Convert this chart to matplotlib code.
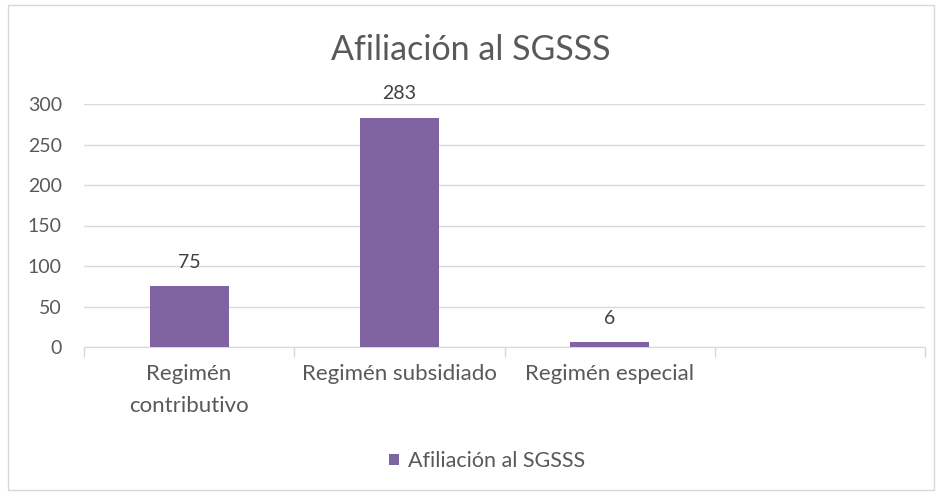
import matplotlib
matplotlib.use("Agg")
import matplotlib.pyplot as plt
from matplotlib.patches import Rectangle

categories = ["Regimén\ncontributivo", "Regimén subsidiado", "Regimén especial", ""]
values = [75, 283, 6, None]
series_name = "Afiliación al SGSSS"
title = "Afiliación al SGSSS"
yticks = [0, 50, 100, 150, 200, 250, 300]

plt.rcParams['font.family'] = ['Lato', 'DejaVu Sans']
text_color = "#595959"
bar_color = "#8064A2"
grid_color = "#D9D9D9"

fig = plt.figure(figsize=(9.42, 4.95), dpi=100)
ax = fig.add_axes([84/942, 148/495, (925-84)/942, (391-148)/495])

xs = [i for i, v in enumerate(values) if v is not None]
vs = [v for v in values if v is not None]
bars = ax.bar(xs, vs, width=0.376, color=bar_color, label=series_name, zorder=3)
for x, v in zip(xs, vs):
    ax.annotate(str(v), (x, v), xytext=(0, 11), textcoords="offset points",
                ha="center", va="bottom", fontsize=14, color="#404040")

ax.set_xlim(-0.5, len(categories) - 0.5)
ax.set_ylim(0, 300)
ax.set_yticks(yticks)
ax.set_yticklabels([str(t) for t in yticks], fontsize=14, color=text_color)
ax.yaxis.grid(True, color=grid_color, linewidth=1, zorder=0)
ax.tick_params(axis='y', length=0, pad=16)

ax.set_xticks(range(len(categories)))
ax.set_xticklabels(categories, fontsize=16, color=text_color, linespacing=1.8)
ax.tick_params(axis='x', which='major', length=0, pad=12)
ax.set_xticks([i - 0.5 for i in range(len(categories) + 1)], minor=True)
ax.tick_params(axis='x', which='minor', length=7, color=grid_color, width=1)

for s in ['top', 'right', 'left']:
    ax.spines[s].set_visible(False)
ax.spines['bottom'].set_color(grid_color)

fig.text(0.5, 1 - 50/495, title, ha="center", va="center", fontsize=24.5, color=text_color)

leg = fig.legend(handles=[bars], labels=[series_name], loc="center",
                 bbox_to_anchor=(487/942, 1 - 461/495), frameon=False, fontsize=15.5,
                 handlelength=0.45, handleheight=0.45, handletextpad=0.4)
for t in leg.get_texts():
    t.set_color(text_color)

fig.patches.append(Rectangle((8/942, 5/495), 926/942, 485/495, transform=fig.transFigure,
                             fill=False, edgecolor=grid_color, linewidth=1))

fig.savefig("out.png", dpi=100, facecolor="white")
